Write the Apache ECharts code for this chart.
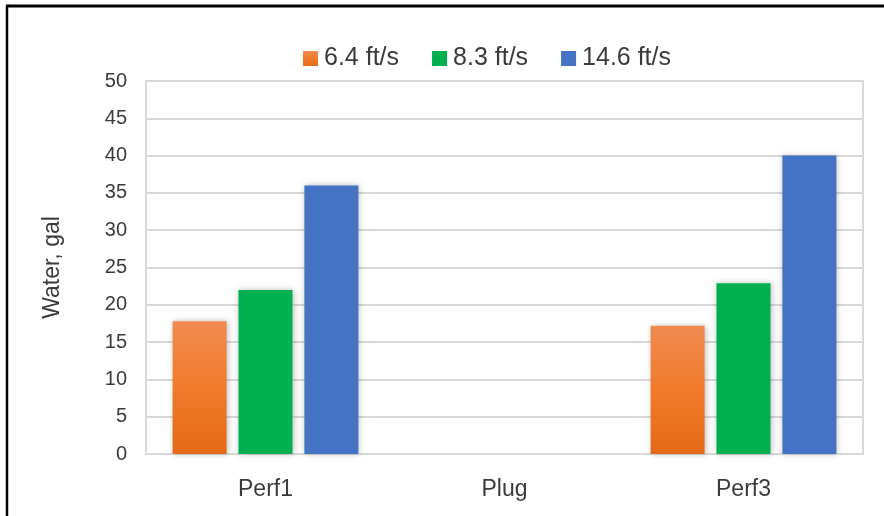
<!DOCTYPE html>
<html>
<head>
<meta charset="utf-8">
<script src="https://cdn.jsdelivr.net/npm/echarts@6/dist/echarts.min.js"></script>
<style>
  html, body { margin: 0; padding: 0; background: #fff; }
  #chart { width: 884px; height: 516px; }
</style>
</head>
<body>
<div id="chart"></div>
<script>
// Water volume per location for three flow velocities
const categories = ['Perf1', 'Plug', 'Perf3'];
const seriesNames = ['6.4 ft/s', '8.3 ft/s', '14.6 ft/s'];
const water64 = [17.8, 0, 17.2];
const water83 = [22.0, 0, 22.9];
const water146 = [36.0, 0, 40.0];
const yTicks = { min: 0, max: 50, interval: 5 };

const FONT = 'Liberation Sans';
const TEXT = '#3a3a3a';

const orangeFill = new echarts.graphic.LinearGradient(0, 0, 0, 1, [
  { offset: 0, color: '#f28b52' },
  { offset: 0.5, color: '#f07b2a' },
  { offset: 1, color: '#e46a17' }
]);

function barSeries(name, data, color) {
  return {
    name: name,
    type: 'bar',
    data: data,
    barWidth: '22.6%',
    barGap: '22%',
    itemStyle: {
      color: color,
      shadowColor: 'rgba(0,0,0,0.25)',
      shadowBlur: 6,
      shadowOffsetX: 1,
      shadowOffsetY: 0
    }
  };
}

const chart = echarts.init(document.getElementById('chart'), null, { renderer: 'canvas' });
chart.setOption({
  animation: false,
  backgroundColor: '#ffffff',
  textStyle: { fontFamily: FONT, color: TEXT },
  graphic: [
    { type: 'line', shape: { x1: 6, y1: 6, x2: 884, y2: 6 }, style: { stroke: '#000', lineWidth: 3 } },
    { type: 'line', shape: { x1: 7, y1: 6, x2: 7, y2: 516 }, style: { stroke: '#000', lineWidth: 2.5 } }
  ],
  legend: {
    top: 41,
    left: 298,
    itemWidth: 15,
    itemHeight: 15,
    itemGap: 33,
    icon: 'rect',
    textStyle: { fontFamily: FONT, fontSize: 25, color: TEXT, padding: [0, 0, 0, 1] },
    data: seriesNames
  },
  grid: { left: 146, right: 21, top: 81, bottom: 62, containLabel: false,
          show: true, borderColor: '#d9d9d9', borderWidth: 2 },
  xAxis: {
    type: 'category',
    data: categories,
    axisLine: { show: true, lineStyle: { color: '#d9d9d9', width: 2 } },
    axisTick: { show: false },
    axisLabel: { fontFamily: FONT, fontSize: 23, color: TEXT, margin: 24 }
  },
  yAxis: {
    type: 'value',
    min: yTicks.min,
    max: yTicks.max,
    interval: yTicks.interval,
    name: 'Water, gal',
    nameLocation: 'middle',
    nameGap: 82,
    nameTextStyle: { fontFamily: FONT, fontSize: 23, color: TEXT },
    axisLine: { show: false },
    axisTick: { show: false },
    splitLine: { lineStyle: { color: '#d9d9d9', width: 2 } },
    axisLabel: { fontFamily: FONT, fontSize: 20, color: TEXT, margin: 19 }
  },
  series: [
    barSeries(seriesNames[0], water64, orangeFill),
    barSeries(seriesNames[1], water83, '#00b050'),
    barSeries(seriesNames[2], water146, '#4472c4')
  ]
});
</script>
</body>
</html>
